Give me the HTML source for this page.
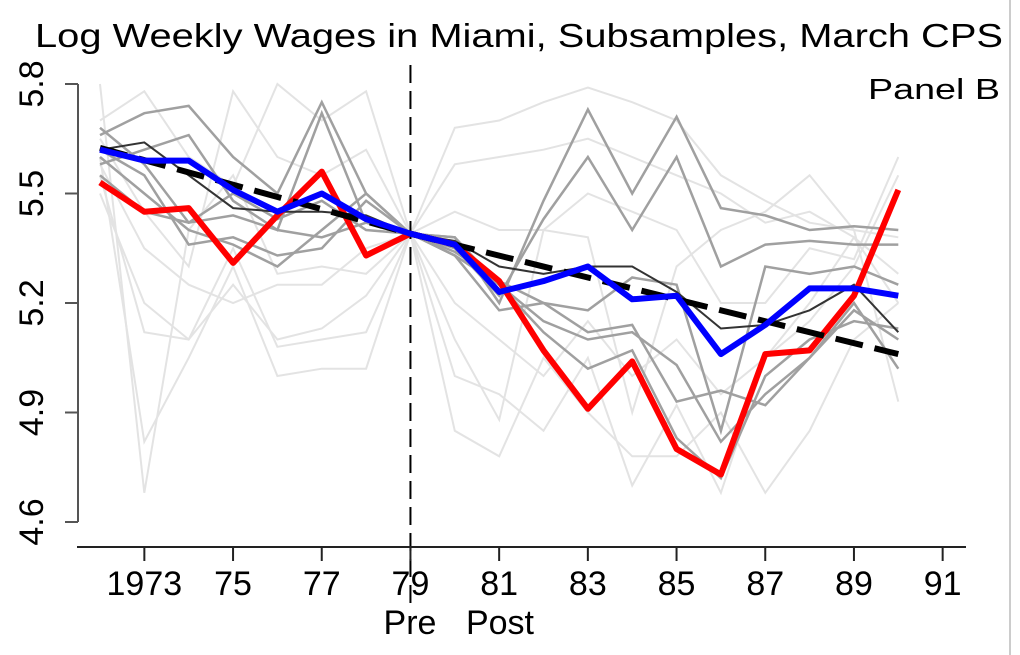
<!DOCTYPE html>
<html><head><meta charset="utf-8"><style>
body{margin:0;background:#fff;}
svg{display:block;font-family:"Liberation Sans",sans-serif;}
</style></head><body>
<svg id="chart" width="1020" height="655" viewBox="0 0 1020 655">
<text x="35" y="47" font-size="33" textLength="968" lengthAdjust="spacingAndGlyphs" fill="#000">Log Weekly Wages in Miami, Subsamples, March CPS</text>
<text x="868" y="99" font-size="29" textLength="132" lengthAdjust="spacingAndGlyphs" fill="#000">Panel B</text>
<line x1="1010" y1="0" x2="1010" y2="655" stroke="#ccc" stroke-width="2"/>
<g id="lines"></g>
<g id="axes"></g>
</svg>
<script>
const years=[1972,1973,1974,1975,1976,1977,1978,1979,1980,1981,1982,1983,1984,1985,1986,1987,1988,1989,1990];
const yTicks=[5.8,5.5,5.2,4.9,4.6];
const yTickLabels=["5.8","5.5","5.2","4.9","4.6"];
const xTicks=[1973,1975,1977,1979,1981,1983,1985,1987,1989,1991];
const xTickLabels=["1973","75","77","79","81","83","85","87","89","91"];
const lightSeries=[
[5.80,4.68,5.40,5.55,5.28,5.30,5.28,5.39,5.68,5.70,5.75,5.79,5.75,5.70,5.55,5.48,5.42,5.40,5.38],
[5.70,5.78,5.60,5.52,5.80,5.70,5.78,5.39,5.58,5.60,5.62,5.65,5.60,5.55,5.50,5.42,5.45,5.38,5.20],
[5.60,4.82,5.05,5.30,5.00,5.02,5.02,5.39,5.10,4.88,5.40,5.38,4.90,5.30,5.40,5.45,5.55,5.40,4.93],
[5.55,5.12,5.10,5.35,5.08,5.10,5.12,5.39,4.85,4.78,5.05,4.90,4.78,4.78,4.90,4.68,4.85,5.10,5.20],
[5.50,5.20,5.10,5.25,5.10,5.13,5.22,5.39,5.00,4.95,4.85,5.05,4.70,4.92,4.68,5.05,5.15,5.30,5.55],
[5.65,5.45,5.30,5.78,5.60,5.55,5.62,5.39,5.45,5.40,5.40,5.50,5.45,5.40,5.20,5.20,5.35,5.32,5.60],
[5.58,5.35,5.25,5.20,5.25,5.25,5.35,5.39,5.20,5.10,5.00,5.15,5.00,5.10,4.95,5.05,5.20,5.38,5.28]
];
const graySeries=[
[5.66,5.72,5.74,5.60,5.50,5.75,5.50,5.39,5.38,5.20,5.48,5.73,5.50,5.71,5.46,5.44,5.40,5.41,5.40],
[5.58,5.62,5.66,5.48,5.40,5.72,5.42,5.39,5.35,5.22,5.43,5.60,5.40,5.60,5.30,5.36,5.37,5.36,5.36],
[5.60,5.50,5.40,5.36,5.30,5.40,5.50,5.39,5.33,5.18,5.20,5.12,5.14,4.93,4.96,4.92,5.05,5.18,5.10],
[5.68,5.58,5.42,5.44,5.40,5.38,5.42,5.39,5.34,5.26,5.20,5.18,5.27,5.25,4.85,5.30,5.28,5.30,5.25],
[5.55,5.45,5.42,5.50,5.43,5.48,5.40,5.39,5.33,5.25,5.15,5.10,5.12,5.03,4.82,4.95,5.05,5.20,5.02],
[5.62,5.55,5.36,5.38,5.33,5.35,5.48,5.39,5.38,5.25,5.12,5.02,5.07,4.83,4.72,5.00,5.10,5.15,5.13]
];
const darkSeries=[5.62,5.64,5.55,5.46,5.45,5.45,5.44,5.39,5.37,5.30,5.28,5.30,5.30,5.23,5.13,5.14,5.18,5.25,5.12];
const redSeries=[5.53,5.45,5.46,5.31,5.44,5.56,5.33,5.39,5.36,5.26,5.07,4.91,5.04,4.80,4.73,5.06,5.07,5.22,5.51];
const blueSeries=[5.62,5.59,5.59,5.51,5.45,5.50,5.43,5.39,5.36,5.23,5.26,5.30,5.21,5.22,5.06,5.14,5.24,5.24,5.22];
const trendYears=[1972,1979,1990];
const trendValues=[5.625,5.39,5.06];

const NS="http://www.w3.org/2000/svg";
function xs(yr){return 100+(yr-1972)*44.35;}
function ys(v){return 84+(5.8-v)*365;}
function mk(tag,attrs,parent){const e=document.createElementNS(NS,tag);for(const k in attrs)e.setAttribute(k,attrs[k]);parent.appendChild(e);return e;}
const L=document.getElementById('lines'),A=document.getElementById('axes');
function pts(xv,vals){return vals.map((v,i)=>xs(xv[i]).toFixed(1)+','+ys(v).toFixed(1)).join(' ');}
lightSeries.forEach((s,i)=>{const p=mk('polyline',{points:pts(years,s),fill:'none',stroke:'#e3e3e3','stroke-width':2},L);

});
graySeries.forEach((s,i)=>{const p=mk('polyline',{points:pts(years,s),fill:'none',stroke:'#a0a0a0','stroke-width':2.5},L);

});
let p=mk('polyline',{points:pts(years,darkSeries),fill:'none',stroke:'#333','stroke-width':2},L);


p=mk('line',{x1:xs(1979),y1:65,x2:xs(1979),y2:608,stroke:'#000','stroke-width':2,'stroke-dasharray':'18,8'},L);


p=mk('polyline',{points:pts(years,redSeries),fill:'none',stroke:'#ff0000','stroke-width':6,'stroke-linejoin':'round'},L);


p=mk('polyline',{points:pts(trendYears,trendValues),fill:'none',stroke:'#000','stroke-width':6,'stroke-dasharray':'28,12'},L);


p=mk('polyline',{points:pts(years,blueSeries),fill:'none',stroke:'#0000ff','stroke-width':6,'stroke-linejoin':'round'},L);


p=mk('line',{x1:78,y1:ys(5.8),x2:78,y2:ys(4.6),stroke:'#555','stroke-width':2},A);


yTicks.forEach((v,i)=>{mk('line',{x1:65,y1:ys(v),x2:78,y2:ys(v),stroke:'#555','stroke-width':2},A);
const t=mk('text',{x:0,y:0,'font-size':34,'text-anchor':'middle',transform:`translate(43,${ys(v)}) rotate(-90)`},A);
t.textContent=yTickLabels[i];

});
p=mk('line',{x1:77,y1:547,x2:966,y2:547,stroke:'#222','stroke-width':2},A);


xTicks.forEach((yr,i)=>{mk('line',{x1:xs(yr),y1:547,x2:xs(yr),y2:561,stroke:'#222','stroke-width':2},A);
const t=mk('text',{x:xs(yr),y:595,'font-size':34,'text-anchor':'middle'},A);
t.textContent=xTickLabels[i];

});
let t=mk('text',{x:410,y:634,'font-size':34,'text-anchor':'middle'},A);t.textContent='Pre';


t=mk('text',{x:500,y:634,'font-size':34,'text-anchor':'middle'},A);t.textContent='Post';


</script>
</body></html>
